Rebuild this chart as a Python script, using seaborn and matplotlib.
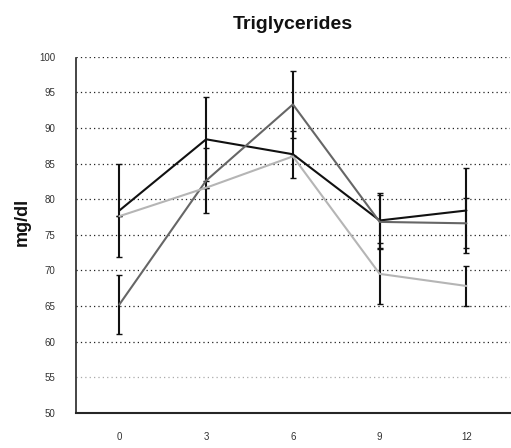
import numpy as np
import pandas as pd
import matplotlib
matplotlib.use("Agg")
import matplotlib.pyplot as plt
import seaborn as sns

# Data
months = ["0", "3", "6", "9", "12"]
group_a = [78.4, 88.4, 86.3, 77.0, 78.4]
group_a_err = [6.5, 5.9, 3.3, 3.9, 6.0]
group_b = [65.2, 82.6, 93.3, 76.8, 76.6]
group_b_err = [4.2, 4.6, 4.7, 3.8, 3.5]
group_c = [77.6, 81.6, 86.0, 69.5, 67.8]
group_c_err = [0.0, 0.0, 0.0, 4.3, 2.8]

series_names = ["A", "B", "C"]
series_values = [group_a, group_b, group_c]
series_errors = [group_a_err, group_b_err, group_c_err]
colors = ["#111111", "#666666", "#b5b5b5"]

y_ticks = [50, 55, 60, 65, 70, 75, 80, 85, 90, 95, 100]

sns.set_style("white")
plt.rcParams["font.family"] = ["Liberation Sans", "DejaVu Sans"]

rows = []
for name, vals in zip(series_names, series_values):
    for i, v in enumerate(vals):
        rows.append({"pos": i, "value": v, "group": name})
df = pd.DataFrame(rows)

fig = plt.figure(figsize=(5.11, 4.48), dpi=100)
ax = fig.add_axes([0.1487, 0.0788, 0.849, 0.7946])

# Gridlines
for t in y_ticks[1:]:
    ax.axhline(t, color="#222222" if t != 55 else "#aaaaaa",
               linestyle=(0, (1, 2.5)), linewidth=0.9, zorder=0)

# Error bars
for vals, errs, c in zip(series_values, series_errors, colors):
    ax.errorbar(range(len(vals)), vals, yerr=errs, fmt="none",
                ecolor="#111111", elinewidth=1.5, capsize=2,
                capthick=1.0, zorder=2)

sns.lineplot(data=df, x="pos", y="value", hue="group", palette=colors,
             linewidth=1.5, legend=False, ax=ax, zorder=3)

ax.set_xlim(-0.5, 4.5)
ax.set_ylim(50, 100)
ax.set_yticks(y_ticks)
ax.set_yticklabels([str(t) for t in y_ticks], fontsize=7, color="#333333")
ax.set_xticks([0.5, 1.5, 2.5, 3.5])
ax.set_xticklabels([])
ax.set_xticks(range(len(months)), minor=True)
ax.set_xticklabels(months, minor=True, fontsize=7, color="#333333")
ax.tick_params(axis="x", which="minor", length=0, pad=14)
ax.tick_params(axis="x", which="major", length=3, direction="out", width=1)
ax.tick_params(axis="y", length=3, direction="out", width=1, pad=12)

for s in ["top", "right"]:
    ax.spines[s].set_visible(False)
ax.spines["left"].set_linestyle((0, (1, 1)))
ax.spines["left"].set_linewidth(1.2)
ax.spines["bottom"].set_linewidth(1.5)

ax.set_xlabel("")
ax.set_ylabel("mg/dl", fontsize=13, fontweight="bold", color="#111111")
ax.yaxis.set_label_coords(-0.105, 0.536)
ax.set_title("Triglycerides", fontsize=14, fontweight="bold", pad=20,
             color="#111111")

fig.savefig("out.png", dpi=100)
